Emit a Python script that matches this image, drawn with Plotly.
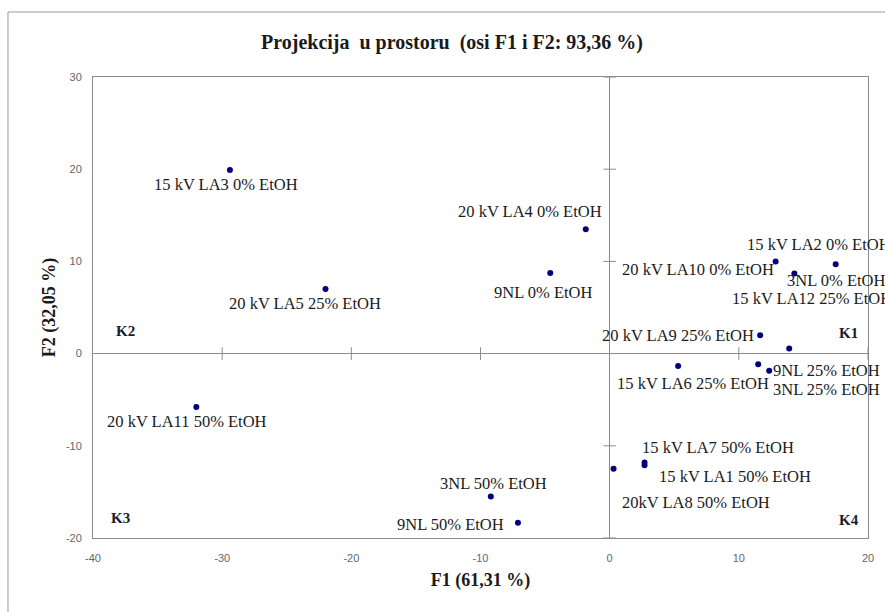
import plotly.graph_objects as go

labels = ["15 kV LA3 0% EtOH", "20 kV LA5 25% EtOH", "20 kV LA4 0% EtOH", "9NL 0% EtOH",
          "15 kV LA2 0% EtOH", "20 kV LA10 0% EtOH", "3NL 0% EtOH", "15 kV LA12 25% EtOH",
          "20 kV LA9 25% EtOH", "15 kV LA6 25% EtOH", "9NL 25% EtOH", "3NL 25% EtOH",
          "20 kV LA11 50% EtOH", "15 kV LA7 50% EtOH", "15 kV LA1 50% EtOH", "20kV LA8 50% EtOH",
          "3NL 50% EtOH", "9NL 50% EtOH"]
f1 = [-29.4, -22.0, -1.85, -4.6, 17.5, 12.85, 14.3, 13.9, 11.65, 5.3, 11.5, 12.35,
      -32.0, 2.7, 2.7, 0.3, -9.2, -7.1]
f2 = [19.9, 7.0, 13.5, 8.75, 9.7, 10.0, 8.7, 0.55, 2.0, -1.35, -1.15, -1.85,
      -5.8, -11.8, -12.1, -12.5, -15.5, -18.35]
# label offsets in pixels (dx right, dy up)
label_dx = [-4, -21, -56, -7, -17, -78, 42, 23, -82, 15, 68, 57, -9, 73, 90, 82, 3, -67]
label_dy = [-14, -14, 18, -20, 20, -8, -7, 50, 0, -17, -6, -19, -14, 15, -11, -34, 13, -2]

clusters = ["K1", "K2", "K3", "K4"]
cluster_x = [18.5, -37.5, -37.9, 18.5]
cluster_y = [2.2, 2.5, -17.8, -18.1]

x_cross_ticks = [-30, -20, -10, 10, 20]
y_cross_ticks = [-20, -10, 10, 20, 30]

x_tickvals = [-40, -30, -20, -10, 0, 10, 20]
x_ticktext = ["-40", "-30", "-20", "-10", "0", "10", "20"]
y_tickvals = [-20, -10, 0, 10, 20, 30]
y_ticktext = ["-20", "-10", "0", "10", "20", "30"]

x_range = [-40, 20]
y_range = [-20, 30]

serif = "Liberation Serif"
fig = go.Figure()

# cross tick marks on the zero axes
fig.add_trace(go.Scatter(x=x_cross_ticks, y=[0] * len(x_cross_ticks), mode="markers",
                         marker=dict(symbol="line-ns", size=9, line=dict(color="#8c8c8c", width=1)),
                         hoverinfo="skip", showlegend=False))
fig.add_trace(go.Scatter(x=[0] * len(y_cross_ticks), y=y_cross_ticks, mode="markers",
                         marker=dict(symbol="line-ew", size=9, line=dict(color="#8c8c8c", width=1)),
                         hoverinfo="skip", showlegend=False))

fig.add_trace(go.Scatter(x=f1, y=f2, mode="markers", text=labels,
                         marker=dict(color="#00007f", size=6), showlegend=False))

for lab, xv, yv, dx, dy in zip(labels, f1, f2, label_dx, label_dy):
    fig.add_annotation(x=xv, y=yv, text=lab, showarrow=False, xshift=dx, yshift=dy,
                       font=dict(family=serif, size=16.5, color="#1a1a1a"))

for lab, xv, yv in zip(clusters, cluster_x, cluster_y):
    fig.add_annotation(x=xv, y=yv, text="<b>" + lab + "</b>", showarrow=False,
                       font=dict(family=serif, size=15, color="#1a1a2a"))

# outer chart frame
fig.add_shape(type="rect", xref="paper", yref="paper", x0=-0.1097, y0=-0.3, x1=1.25, y1=1.141,
              line=dict(color="#9a9a9a", width=1), layer="below")

fig.update_layout(
    width=885, height=612,
    margin=dict(l=93, r=17, t=77, b=74),
    paper_bgcolor="white", plot_bgcolor="white",
    title=dict(text="<b>Projekcija&nbsp; u prostoru&nbsp; (osi F1 i F2: 93,36 %)</b>",
               x=452 / 885, xanchor="center", y=1 - 42 / 612, yanchor="middle",
               font=dict(family=serif, size=20, color="#1a1a1a")),
    xaxis=dict(range=x_range, tickvals=x_tickvals, ticktext=x_ticktext, showgrid=False,
               zeroline=True, zerolinecolor="#8c8c8c", ticklabelstandoff=10,
               zerolinewidth=1, showline=True, linecolor="#8c8c8c", linewidth=1, mirror=True,
               ticks="", tickfont=dict(family="Liberation Sans", size=11, color="#666666"),
               title=dict(text="<b>F1 (61,31 %)</b>", font=dict(family=serif, size=18, color="#1a1a1a"),
                          standoff=10)),
    yaxis=dict(range=y_range, tickvals=y_tickvals, ticktext=y_ticktext, showgrid=False,
               zeroline=True, zerolinecolor="#8c8c8c", ticklabelstandoff=8,
               zerolinewidth=1, showline=True, linecolor="#8c8c8c", linewidth=1, mirror=True,
               ticks="", tickfont=dict(family="Liberation Sans", size=11, color="#666666"),
               title=dict(text="<b>F2 (32,05 %)</b>", font=dict(family=serif, size=18, color="#1a1a1a"),
                          standoff=5)),
)

fig.write_html("out.html", config={"displayModeBar": False},
               post_script="document.body.style.margin='0';document.body.style.overflow='hidden';")
